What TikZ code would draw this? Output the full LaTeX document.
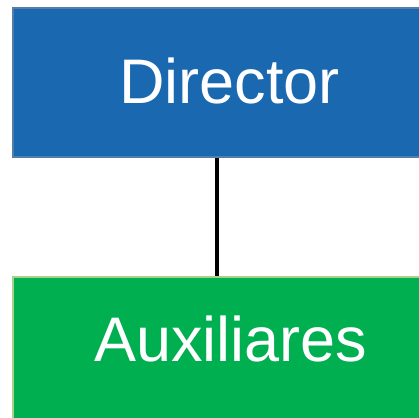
\documentclass[tikz,border=0pt]{standalone}
\usepackage{fontspec}
\setmainfont{Liberation Sans}
\definecolor{dirblue}{RGB}{25,104,176}
\definecolor{dirline}{RGB}{84,126,170}
\definecolor{auxgreen}{RGB}{0,176,80}
\definecolor{auxline}{RGB}{168,210,140}
\begin{document}
\begin{tikzpicture}[x=1bp,y=-1bp,
	unit/.style={minimum width=408bp,minimum height=149bp,inner sep=0pt,line width=2.5bp},
	caption/.style={text=white,font=\fontsize{63bp}{70bp}\selectfont,anchor=base,inner sep=0pt}]
	\useasboundingbox (0,0) rectangle (419,418);
	\node [unit, draw=dirline, fill=dirblue] (director) at (217,82.5) {};
	\node [unit, draw=auxline, fill=auxgreen] (aux) at (217,351.5) {};
	\draw [line width=3.5bp] (director.south) -- (aux.north);
	\node [caption] (directortext) at (229.5,103.5) {Director};
	\node [caption] (auxtext) at (231,361.5) {Auxiliares};
\end{tikzpicture}
\end{document}
